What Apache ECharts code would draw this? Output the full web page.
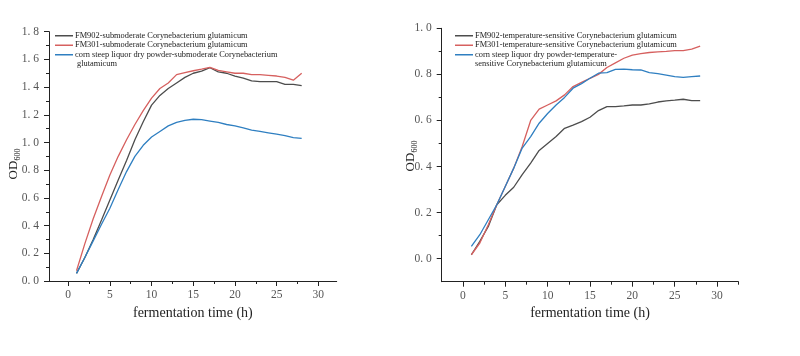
<!DOCTYPE html>
<html>
<head>
<meta charset="utf-8">
<script src="https://cdn.jsdelivr.net/npm/echarts@6/dist/echarts.min.js"></script>
<style>html,body{margin:0;padding:0;background:#fff}#c{width:800px;height:356px}</style>
</head>
<body>
<div id="c"></div>
<script>
const hours = [1,2,3,4,5,6,7,8,9,10,11,12,13,14,15,16,17,18,19,20,21,22,23,24,25,26,27,28];

const leftFM902 = [0.055,0.17,0.30,0.44,0.585,0.73,0.87,1.02,1.15,1.27,1.34,1.39,1.43,1.47,1.50,1.515,1.54,1.51,1.50,1.48,1.465,1.445,1.44,1.44,1.44,1.42,1.42,1.41];
const leftFM301 = [0.074,0.27,0.45,0.61,0.765,0.90,1.02,1.13,1.23,1.32,1.39,1.43,1.49,1.505,1.518,1.53,1.543,1.52,1.51,1.50,1.50,1.49,1.49,1.485,1.48,1.47,1.45,1.50];
const leftCorn  = [0.055,0.17,0.29,0.41,0.525,0.66,0.79,0.90,0.98,1.04,1.08,1.12,1.145,1.16,1.168,1.165,1.155,1.145,1.13,1.12,1.105,1.09,1.08,1.07,1.06,1.05,1.035,1.03];

const rightFM902 = [0.017,0.075,0.14,0.234,0.275,0.31,0.365,0.415,0.47,0.50,0.53,0.566,0.58,0.595,0.614,0.643,0.66,0.66,0.663,0.667,0.667,0.672,0.68,0.685,0.688,0.692,0.686,0.686];
const rightFM301 = [0.017,0.068,0.147,0.234,0.313,0.393,0.487,0.60,0.649,0.667,0.685,0.711,0.747,0.765,0.783,0.80,0.83,0.85,0.87,0.884,0.89,0.895,0.898,0.90,0.903,0.903,0.91,0.923];
const rightCorn  = [0.053,0.104,0.169,0.234,0.313,0.393,0.48,0.53,0.588,0.63,0.667,0.70,0.74,0.76,0.783,0.805,0.808,0.822,0.823,0.82,0.819,0.808,0.803,0.797,0.79,0.787,0.79,0.793];

const leftNames = ['FM902-submoderate Corynebacterium glutamicum','FM301-submoderate Corynebacterium glutamicum','corn steep liquor dry powder-submoderate Corynebacterium'];
const leftNameCont = 'glutamicum';
const rightNames = ['FM902-temperature-sensitive Corynebacterium glutamicum','FM301-temperature-sensitive Corynebacterium glutamicum','corn steep liquor dry powder-temperature-'];
const rightNameCont = 'sensitive Corynebacterium glutamicum';

const xMajorTicks = [0,5,10,15,20,25,30];
const xMinorTicks = [2.5,7.5,12.5,17.5,22.5,27.5,32.5];
const yLeftMajor = [0,0.2,0.4,0.6,0.8,1.0,1.2,1.4,1.6,1.8];
const yLeftMinor = [0.1,0.3,0.5,0.7,0.9,1.1,1.3,1.5,1.7];
const yRightMajor = [0,0.2,0.4,0.6,0.8,1.0];
const yRightMinor = [0.1,0.3,0.5,0.7,0.9];

const colors = ['#4d4d4d','#d6605f','#2f7fc1'];
const serif = 'Liberation Serif';
const axisCol = '#222';
const labCol = '#555';

function pairs(arr){ return hours.map((h,i)=>[h,arr[i]]); }

function xAxes(gi, min, max){
  return [
    {type:'value', gridIndex:gi, position:'bottom', min:min, max:max,
     axisLine:{show:true,onZero:false,lineStyle:{color:axisCol,width:1}},
     axisTick:{show:true,inside:false,length:5,customValues:xMajorTicks,lineStyle:{color:axisCol,width:1}},
     axisLabel:{show:true,customValues:xMajorTicks,color:labCol,fontFamily:serif,fontSize:11.5,margin:8},
     splitLine:{show:false},
     name:'fermentation time (h)', nameLocation:'middle', nameGap:gi===0?21:25,
     nameTextStyle:{color:'#222',fontFamily:serif,fontSize:14}},
    {type:'value', gridIndex:gi, position:'bottom', offset:0, min:min, max:max,
     axisLine:{show:false,onZero:false},
     axisTick:{show:true,inside:false,length:3,customValues:xMinorTicks.filter(v=>v<=max),lineStyle:{color:axisCol,width:1}},
     axisLabel:{show:false}, splitLine:{show:false}}
  ];
}
function yAxes(gi, min, max, major, minor){
  return [
    {type:'value', gridIndex:gi, position:'left', min:min, max:max,
     axisLine:{show:true,onZero:false,lineStyle:{color:axisCol,width:1}},
     axisTick:{show:true,inside:false,length:5,customValues:major,lineStyle:{color:axisCol,width:1}},
     axisLabel:{show:true,customValues:major,color:labCol,fontFamily:serif,fontSize:11.5,margin:10,
       formatter:v=>v.toFixed(1).replace('.', '. ')},
     splitLine:{show:false}},
    {type:'value', gridIndex:gi, position:'left', offset:0, min:min, max:max,
     axisLine:{show:false,onZero:false},
     axisTick:{show:true,inside:false,length:3,customValues:minor,lineStyle:{color:axisCol,width:1}},
     axisLabel:{show:false}, splitLine:{show:false}}
  ];
}

function mkSeries(name, data, ci, xi, yi){
  return {type:'line', name:name, data:pairs(data), xAxisIndex:xi, yAxisIndex:yi,
    showSymbol:false, symbol:'none', smooth:false,
    lineStyle:{color:colors[ci],width:1.3}, itemStyle:{color:colors[ci]}, animation:false};
}

function odTitle(x,y){
  return {type:'text', x:x, y:y, rotation:Math.PI/2,
    style:{text:'{a|OD}{b|600}', align:'center', verticalAlign:'middle',
      rich:{a:{fontFamily:serif,fontSize:13,fill:'#222',lineHeight:14},
            b:{fontFamily:serif,fontSize:8,fill:'#222',lineHeight:14,padding:[7,0,0,0]}}}};
}

const legendFont = 8.4;
const legendBase = {orient:'vertical', padding:0, itemGap:0, itemWidth:18, itemHeight:1.5, icon:'rect',
  textStyle:{fontFamily:serif,fontSize:legendFont,lineHeight:9.5,color:'#222',padding:[0,0,0,-3]}};

const chart = echarts.init(document.getElementById('c'), null, {renderer:'canvas'});
chart.setOption({
  animation:false,
  grid:[
    {left:49, top:31.7, width:287.7, height:249.3},
    {left:441.7, top:28.3, width:296.6, height:253.4}
  ],
  xAxis:[...xAxes(0,-2.3,32.2), ...xAxes(1,-2.5,32.5)],
  yAxis:[...yAxes(0,0,1.8,yLeftMajor,yLeftMinor), ...yAxes(1,-0.1,1.0,yRightMajor,yRightMinor)],
  legend:[
    Object.assign({data:leftNames, left:55, top:31}, legendBase),
    Object.assign({data:rightNames, left:455, top:31}, legendBase)
  ],
  graphic:[
    odTitle(14,164),
    odTitle(411,156),
    {type:'text', x:77, y:64.2, style:{text:leftNameCont, fontFamily:serif, fontSize:legendFont, fill:'#222', verticalAlign:'middle'}},
    {type:'text', x:475, y:64.3, style:{text:rightNameCont, fontFamily:serif, fontSize:legendFont, fill:'#222', verticalAlign:'middle'}}
  ],
  series:[
    mkSeries(leftNames[0], leftFM902, 0, 0, 0),
    mkSeries(leftNames[1], leftFM301, 1, 0, 0),
    mkSeries(leftNames[2], leftCorn, 2, 0, 0),
    mkSeries(rightNames[0], rightFM902, 0, 2, 2),
    mkSeries(rightNames[1], rightFM301, 1, 2, 2),
    mkSeries(rightNames[2], rightCorn, 2, 2, 2)
  ]
});
</script>
</body>
</html>
